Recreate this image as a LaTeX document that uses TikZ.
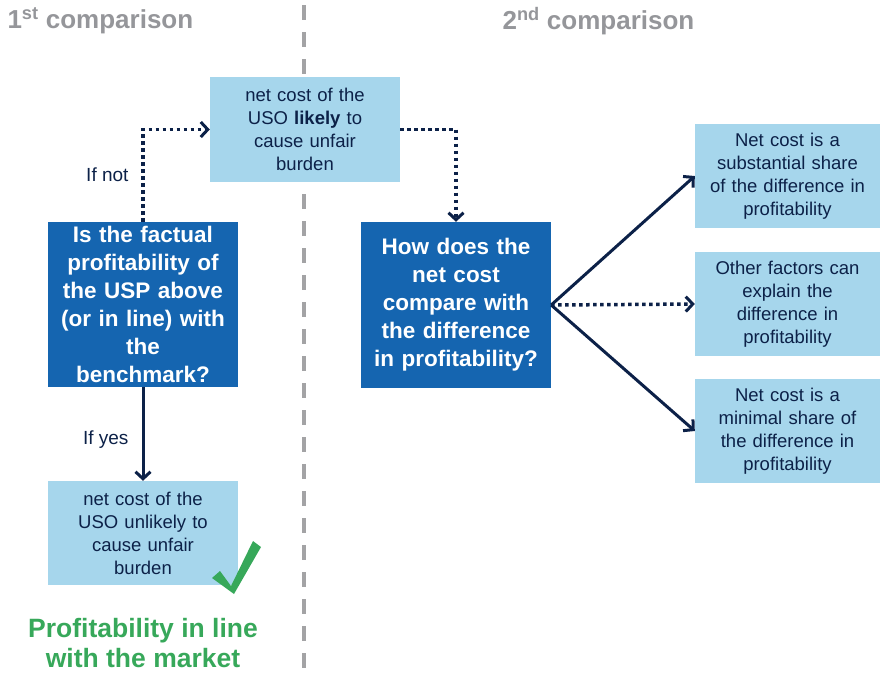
\documentclass[tikz,border=0pt]{standalone}
\usepackage{fontspec}
\setmainfont{Liberation Sans}
\usetikzlibrary{arrows.meta}
\definecolor{lightbox}{HTML}{A6D6EC}
\definecolor{darkbox}{HTML}{1565B0}
\definecolor{navy}{HTML}{0C2148}
\definecolor{titlegray}{HTML}{95969A}
\definecolor{divider}{HTML}{A3A3A5}
\definecolor{okgreen}{HTML}{37A85A}
\begin{document}
\begin{tikzpicture}[x=1pt,y=-1pt,
  lightnode/.style={fill=lightbox, inner sep=0pt, minimum width=190pt, minimum height=105pt,
    text width=186pt, align=center, text=navy, font=\fontsize{18.5}{23}\selectfont},
  rightnode/.style={lightnode, minimum width=185pt, minimum height=104pt, text width=183pt},
  darknode/.style={fill=darkbox, inner sep=0pt, minimum width=190pt, minimum height=165pt,
    text width=188pt, align=center, text=white, font=\fontsize{22.5}{28}\selectfont\bfseries},
  title/.style={anchor=west, text=titlegray, font=\fontsize{26}{28}\selectfont\bfseries},
  caption/.style={anchor=east, text=navy, font=\fontsize{19}{21}\selectfont},
  tip/.style={-{Straight Barb[length=7pt,width=15pt,line width=3pt]}},
  solidarrow/.style={tip, draw=navy, line width=3pt},
  dotarrow/.style={tip, draw=navy, line width=3.5pt, dash pattern=on 3.5pt off 3.5pt}]
\useasboundingbox (0,0) rectangle (880,673);

% divider between the two comparisons
\draw[divider, line width=3.5pt, dash pattern=on 15pt off 12pt] (304,5) -- (304,668);

% headings
\node[title] (h1) at (4,21) {1\textsuperscript{st} comparison};
\node[title] (h2) at (499,21) {2\textsuperscript{nd} comparison};

% first comparison
\node[lightnode] (likely) at (305,129.5) {net cost of the\\USO \textbf{likely} to\\cause unfair\\burden};
\node[darknode] (q1) at (143,304.5) {Is the factual\\profitability of\\the USP above\\(or in line) with\\the\\benchmark?};
\node[lightnode, minimum height=104pt] (unlikely) at (143,533) {net cost of the\\USO unlikely to\\cause unfair\\burden};

\node[caption] (ifnot) at (132,175) {If not};
\node[caption] (ifyes) at (132,440) {If yes};

\node[text=okgreen, align=center, font=\fontsize{26.5}{30}\selectfont\bfseries] (market) at (143,643)
  {Profitability in line\\with the market};

% check mark
\fill[okgreen] (212,578) -- (220,571) -- (231,586) -- (253,541) -- (261,547) -- (234,594) -- cycle;

% second comparison
\node[darknode, minimum height=166pt] (q2) at (456,305) {How does the\\net cost\\compare with\\the difference\\in profitability?};
\node[rightnode] (r1) at (787.5,176) {Net cost is a\\substantial share\\of the difference in\\profitability};
\node[rightnode] (r2) at (787.5,304) {Other factors can\\explain the\\difference in\\profitability};
\node[rightnode] (r3) at (787.5,431) {Net cost is a\\minimal share of\\the difference in\\profitability};

% connectors
\draw[dotarrow] (q1.north) |- (likely.west);
\draw[dotarrow] (likely.east) -| (q2.north);
\draw[solidarrow] (q1.south) -- (unlikely.north);
\draw[solidarrow] (q2.east) -- (r1.west);
\draw[dotarrow] (q2.east) -- (r2.west);
\draw[solidarrow] (q2.east) -- (r3.west);
\end{tikzpicture}
\end{document}
